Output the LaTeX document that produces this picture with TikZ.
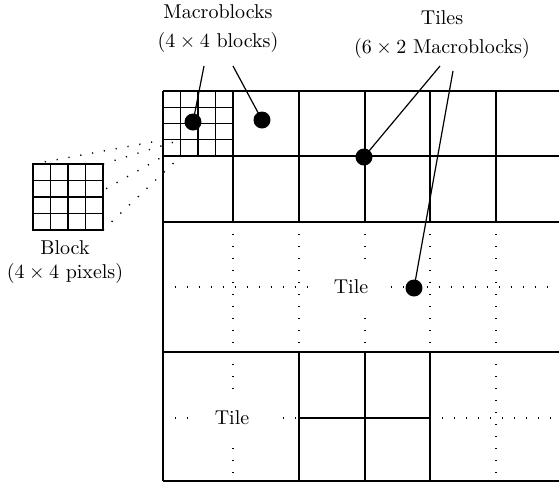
\documentclass[tikz,border=0pt]{standalone}
\usepackage{tikz}

\tikzset{
  gridline/.style={line width=0.65pt},
  dotline/.style={line width=0.7pt, dash pattern=on 0.6pt off 5.4pt},
  blob/.style={circle, fill=black, inner sep=0pt, minimum size=8.5pt},
  labeltext/.style={align=center, font=\fontsize{10}{14.5}\selectfont},
  tiletext/.style={fill=white, inner sep=0pt, minimum width=40pt, minimum height=25pt, font=\fontsize{10}{12}\selectfont},
}

\begin{document}
\begin{tikzpicture}[x=0.5pt,y=-0.5pt]
\useasboundingbox (0,0) rectangle (559,484);
%
% Tile row 2 (dotted macroblocks)
\foreach \x in {233,299,365,430,496}
  \draw[dotline] (\x,222) -- (\x,352);
\draw[dotline] (163,287) -- (559,287);
% Tile row 3 (dotted macroblocks)
\draw[dotline] (233,352) -- (233,481);
\draw[dotline] (496,352) -- (496,481);
\draw[dotline] (163,418) -- (299,418);
\draw[dotline] (430,418) -- (559,418);
\node[tiletext] (tilemid) at (351,287) {Tile};
\node[tiletext] (tilelow) at (232,418) {Tile};

%
% Block, zoomed out of the macroblock
\node[inner sep=0pt, outer sep=0pt, minimum width=8.75pt, minimum height=8.25pt] (cell) at (171.75,148.25) {};
\node[draw, gridline, fill=white, inner sep=0pt, outer sep=0pt, minimum width=35pt, minimum height=33pt] (block) at (68,197) {};
\foreach \a in {north west,north east,south east,south west}
  \draw[dotline] (block.\a) -- (cell.\a);
\node[draw, gridline, fill=white, inner sep=0pt, outer sep=0pt, minimum width=35pt, minimum height=33pt] (block) at (68,197) {};
\foreach \k in {1,2,3} {
  \draw[gridline] ({33+17.5*\k},164) -- ({33+17.5*\k},230);
  \draw[gridline] (33,{164+16.5*\k}) -- (103,{164+16.5*\k});
}
\node[labeltext, font=\fontsize{10}{12}\selectfont] (blocklabel) at (65,262) {Block\\($4\times4$ pixels)};

%
% Frame and solid grid
\foreach \y in {91,156,222,352,481}
  \draw[gridline] (163,\y) -- (559,\y);
\draw[gridline] (163,91) -- (163,481);
\foreach \x in {233,299,365,430,496}
  \draw[gridline] (\x,91) -- (\x,222);
\foreach \x in {299,365,430}
  \draw[gridline] (\x,352) -- (\x,481);
\draw[gridline] (299,418) -- (430,418);
% Macroblock (4 x 4 blocks)
\foreach \k in {1,2,3} {
  \draw[gridline] ({163+17.5*\k},91) -- ({163+17.5*\k},156);
  \draw[gridline] (163,{91+16.25*\k}) -- (233,{91+16.25*\k});
}

%
% Labels and pointers
\node[labeltext] (mblabel) at (218,29) {Macroblocks\\($4\times4$ blocks)};
\node[labeltext] (tileslabel) at (442,35) {Tiles\\($6\times2$ Macroblocks)};
\coordinate (mbA) at (204,66);
\coordinate (mbB) at (233,66);
\coordinate (tlA) at (440,66);
\coordinate (tlB) at (453,71);
\node[blob] (dotA) at (193,122) {};
\node[blob] (dotB) at (262,120) {};
\node[blob] (dotC) at (364,157) {};
\node[blob] (dotD) at (414,288) {};
\draw[line width=0.6pt] (mbA) -- (dotA.center);
\draw[line width=0.6pt] (mbB) -- (dotB.center);
\draw[line width=0.6pt] (tlA) -- (dotC.center);
\draw[line width=0.6pt] (tlB) -- (dotD.center);
\end{tikzpicture}
\end{document}
